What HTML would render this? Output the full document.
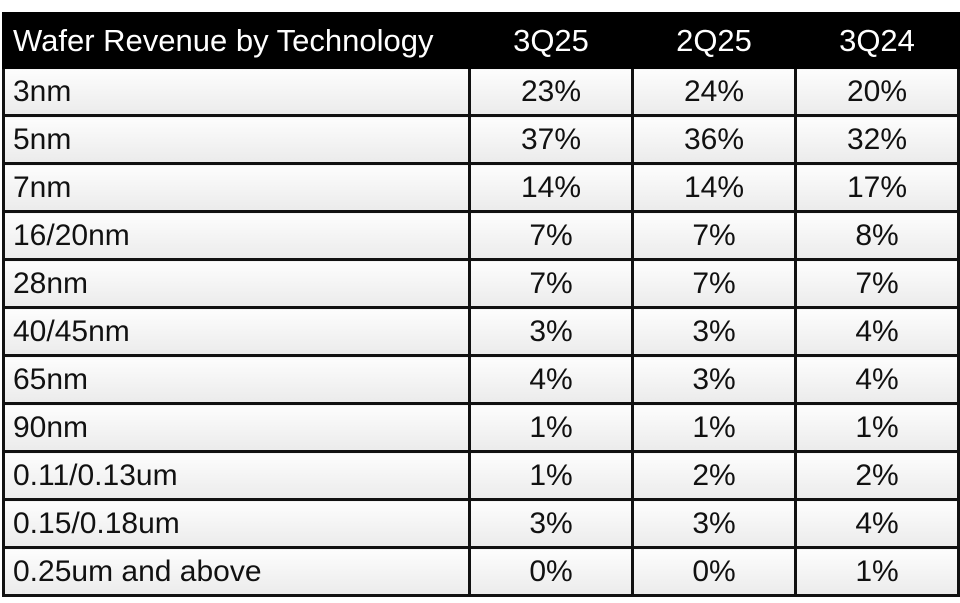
<!DOCTYPE html>
<html><head><style>
body{margin:0;width:960px;height:603px;background:#fff;font-family:"Liberation Sans",sans-serif;overflow:hidden}
table{position:absolute;left:2px;top:12px;width:955px;border-collapse:collapse;table-layout:fixed}
th{background:#000;color:#fff;font-weight:normal;font-size:31px;height:51px;padding:0;text-align:center;border:3px solid #000}
th:first-child{text-align:left;padding-left:8px}
td{font-size:30px;height:45px;padding:0;text-align:center;border:3px solid #111;color:#111;background:linear-gradient(#fdfdfd,#ebebeb);line-height:40px}
td:first-child{text-align:left;padding-left:8px}
</style></head><body>
<table>
<colgroup><col style="width:466px"><col style="width:163px"><col style="width:163px"><col style="width:163px"></colgroup>
<tr><th>Wafer Revenue by Technology</th><th>3Q25</th><th>2Q25</th><th>3Q24</th></tr>
<tr><td>3nm</td><td>23%</td><td>24%</td><td>20%</td></tr>
<tr><td>5nm</td><td>37%</td><td>36%</td><td>32%</td></tr>
<tr><td>7nm</td><td>14%</td><td>14%</td><td>17%</td></tr>
<tr><td>16/20nm</td><td>7%</td><td>7%</td><td>8%</td></tr>
<tr><td>28nm</td><td>7%</td><td>7%</td><td>7%</td></tr>
<tr><td>40/45nm</td><td>3%</td><td>3%</td><td>4%</td></tr>
<tr><td>65nm</td><td>4%</td><td>3%</td><td>4%</td></tr>
<tr><td>90nm</td><td>1%</td><td>1%</td><td>1%</td></tr>
<tr><td>0.11/0.13um</td><td>1%</td><td>2%</td><td>2%</td></tr>
<tr><td>0.15/0.18um</td><td>3%</td><td>3%</td><td>4%</td></tr>
<tr><td>0.25um and above</td><td>0%</td><td>0%</td><td>1%</td></tr>
</table>
</body></html>
